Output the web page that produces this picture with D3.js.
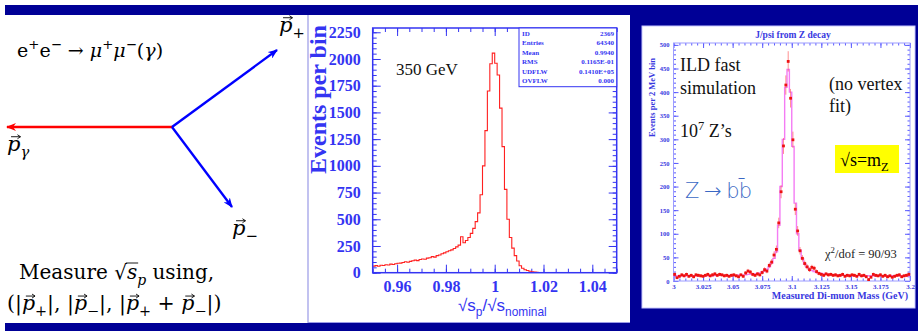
<!DOCTYPE html>
<html>
<head>
<meta charset="utf-8">
<script src="https://cdn.jsdelivr.net/npm/d3@7"></script>
<style>
  body { margin: 0; background: #fff; }
  svg { display: block; }
</style>
</head>
<body>
<div id="chart"></div>
<script>
// ---------- data ----------
// sqrt(s_p)/sqrt(s_nominal) histogram, bins of 0.001 starting at 0.95
const ratioBinStart = 0.95;
const ratioBinWidth = 0.001;
const ratioCounts = [
  62, 66, 60, 70, 68, 74, 72, 80, 77, 84,
  88, 90, 96, 102, 98, 106, 112, 118, 113, 124,
  128, 126, 136, 140, 150, 146, 160, 166, 178, 186,
  196, 205, 214, 226, 242, 258, 336, 280, 302, 330,
  368, 415, 478, 560, 730, 1000, 1330, 1700, 1955, 2055,
  1960, 1850, 1540, 1180, 780, 500, 330, 230, 160, 110,
  65, 42, 28, 20, 14, 9, 5, 3
];
const ratioTicksX = [0.96, 0.98, 1, 1.02, 1.04];
const ratioTicksY = [0, 250, 500, 750, 1000, 1250, 1500, 1750, 2000, 2250];
const statsLabels = ["ID", "Entries", "Mean", "RMS", "UDFLW", "OVFLW"];
const statsValues = ["2369", "64340", "0.9940", "0.1165E-01", "0.1410E+05", "0.000"];

// J/psi di-muon mass, bins of 2 MeV starting at 3.0 GeV
const massBinStart = 3.0;
const massBinWidth = 0.002;
const massCounts = [
  14, 7, 10, 13, 11, 14, 10, 12, 9, 13,
  12, 11, 10, 12, 14, 11, 13, 15, 12, 14,
  13, 11, 12, 10, 12, 13, 11, 9, 13, 10,
  17, 21, 19, 14, 12, 15, 13, 18, 24, 21,
  33, 40, 55, 67, 123, 189, 286, 415, 465, 387,
  299, 152, 106, 64, 48, 37, 30, 24, 29, 27,
  20, 16, 14, 12, 15, 13, 14, 12, 13, 11,
  12, 14, 10, 12, 11, 13, 12, 10, 14, 11,
  12, 9, 3, 8, 14, 12, 11, 13, 10, 12,
  9, 11, 8, 10, 12, 13, 9, 11, 12, 14
];
const massFit = [
  11, 11, 11, 11, 11, 11, 11, 11, 11, 11,
  11, 11, 11, 11, 11, 11, 11, 12, 12, 12,
  12, 12, 12, 12, 12, 12, 12, 13, 13, 13,
  13, 14, 14, 15, 15, 16, 17, 19, 21, 25,
  30, 38, 48, 62, 118, 200, 300, 410, 448, 400,
  285, 165, 100, 65, 47, 36, 29, 25, 22, 20,
  18, 17, 16, 15, 15, 14, 14, 13, 13, 13,
  12, 12, 12, 12, 12, 12, 11, 11, 11, 11,
  11, 11, 11, 11, 11, 11, 11, 11, 11, 11,
  11, 11, 11, 11, 11, 11, 11, 11, 11, 11
];
const massTicksX = [3, 3.025, 3.05, 3.075, 3.1, 3.125, 3.15, 3.175, 3.2];
const massTicksY = [0, 50, 100, 150, 200, 250, 300, 350, 400, 450, 500];

// ---------- setup ----------
const W = 918, H = 331;
const serif = "'Liberation Serif', 'Times New Roman', serif";
const texSerif = "'DejaVu Serif', serif";
const sans = "'Liberation Sans', Arial, sans-serif";
const navy = "#000096";

const svg = d3.select("#chart").append("svg")
  .attr("width", W).attr("height", H)
  .attr("viewBox", `0 0 ${W} ${H}`);

//Slide background bands
svg.append("rect").attr("x", 5).attr("y", 5).attr("width", W - 5).attr("height", 10).attr("fill", navy);
svg.append("rect").attr("x", 5).attr("y", 323).attr("width", W - 5).attr("height", 8).attr("fill", navy);
svg.append("rect").attr("x", 630).attr("y", 5).attr("width", 288).attr("height", 326).attr("fill", navy);
svg.append("rect").attr("x", 642).attr("y", 26).attr("width", 273).attr("height", 282)
  .attr("fill", "#fff").attr("stroke", "#c8c8ff").attr("stroke-width", 1);
svg.append("path").attr("d", "M308,15 V322.5 H630").attr("fill", "none")
  .attr("stroke", "#9a9ae6").attr("stroke-width", 1.2);

// Text with sup/sub parts; parts flagged vec get a small arrow above
function richText(g, x, y, size, parts, font) {
  const t = g.append("text").attr("x", x).attr("y", y)
    .style("font-size", size + "px").style("font-family", font || serif).attr("fill", "#000");
  let shift = 0, idx = 0;
  const vecs = [];
  parts.forEach(p => {
    const target = p.sup ? -0.4 * size : p.sub ? 0.3 * size : 0;
    const ts = t.append("tspan").attr("dy", target - shift).text(p.t);
    shift = target;
    if (p.sup || p.sub) ts.style("font-size", (size * 0.7) + "px");
    if (p.it) ts.style("font-style", "italic");
    if (p.vec) vecs.push({ i: idx, base: y + target, s: (p.sup || p.sub) ? size * 0.7 : size });
    idx += p.t.length;
  });
  vecs.forEach(v => {
    const r = t.node().getExtentOfChar(v.i);
    const ya = v.base - 0.68 * v.s;
    const x0 = r.x + r.width * 0.3, x1 = r.x + r.width * 1.0;
    g.append("path")
      .attr("d", `M${x0},${ya} H${x1} M${x1 - 3},${ya - 2} L${x1},${ya} L${x1 - 3},${ya + 2}`)
      .attr("fill", "none").attr("stroke", "#000").attr("stroke-width", 0.9);
  });
  return t;
}

// ---------- left panel: kinematics sketch ----------
const left = svg.append("g");
const defs = svg.append("defs");
[["arrRed", "#ff0000"], ["arrBlue", "#0000ff"]].forEach(([id, c]) => {
  defs.append("marker").attr("id", id).attr("viewBox", "0 0 10 8")
    .attr("refX", 9).attr("refY", 4).attr("markerWidth", 10).attr("markerHeight", 8)
    .attr("markerUnits", "userSpaceOnUse").attr("orient", "auto")
    .append("path").attr("d", "M0,0 L10,4 L0,8 L3,4 Z").attr("fill", c);
});
const vertex = [172, 127];
const arrows = [
  { to: [7, 127], c: "#ff0000", m: "arrRed" },
  { to: [277, 50], c: "#0000ff", m: "arrBlue" },
  { to: [232, 207], c: "#0000ff", m: "arrBlue" }
];
arrows.forEach(a => {
  left.append("line").attr("x1", vertex[0]).attr("y1", vertex[1])
    .attr("x2", a.to[0]).attr("y2", a.to[1])
    .attr("stroke", a.c).attr("stroke-width", 2.4).attr("marker-end", `url(#${a.m})`);
});

richText(left, 17, 57, 19, [
  { t: "e" }, { t: "+", sup: true }, { t: "e" }, { t: "\u2212", sup: true },
  { t: " \u2192 " }, { t: "\u03bc", it: true }, { t: "+", sup: true },
  { t: "\u03bc", it: true }, { t: "\u2212", sup: true }, { t: "(" }, { t: "\u03b3", it: true }, { t: ")" }
], texSerif);
richText(left, 279, 32, 21, [{ t: "p", it: true, vec: true }, { t: "+", sub: true }], texSerif);
richText(left, 7, 151, 21, [{ t: "p", it: true, vec: true }, { t: "\u03b3", it: true, sub: true }], texSerif);
richText(left, 232, 235, 21, [{ t: "p", it: true, vec: true }, { t: "\u2212", sub: true }], texSerif);
const meas = richText(left, 19, 279, 20, [
  { t: "Measure " }, { t: "\u221a" }, { t: "s", it: true }, { t: "p", it: true, sub: true }, { t: " using," }
], texSerif);
// overline of the square root
{
  const n = meas.node();
  const a = n.getExtentOfChar(8), b = n.getExtentOfChar(9);
  left.append("line").attr("x1", a.x + a.width - 1).attr("x2", b.x + b.width + 1)
    .attr("y1", a.y + 3).attr("y2", a.y + 3).attr("stroke", "#000").attr("stroke-width", 0.9);
}
richText(left, 7, 310, 20.5, [
  { t: "(|" }, { t: "p", it: true, vec: true }, { t: "+", sub: true }, { t: "|, |" },
  { t: "p", it: true, vec: true }, { t: "\u2212", sub: true }, { t: "|, |" },
  { t: "p", it: true, vec: true }, { t: "+", sub: true }, { t: " + " },
  { t: "p", it: true, vec: true }, { t: "\u2212", sub: true }, { t: "|)" }
], texSerif);

// ---------- middle panel: sqrt(s_p) histogram ----------
const midBlue = "#3434f2";
const mid = svg.append("g");
const xM = d3.scaleLinear().domain([0.95, 1.05]).range([372.7, 616.7]);
const yM = d3.scaleLinear().domain([0, 2290]).range([272.7, 28]);

function frameTicks(g, x, y, majX, minX, majY, minY, lenMaj, lenMin, color) {
  const [x0, x1] = x.range(), [y0, y1] = y.range();
  const mk = (axis, tr, vals, len) => g.append("g").attr("transform", tr).attr("color", color)
    .call(axis.tickValues(vals).tickSize(len).tickFormat(""))
    .call(s => s.select(".domain").remove());
  mk(d3.axisBottom(x), `translate(0,${y0})`, minX, -lenMin);
  mk(d3.axisBottom(x), `translate(0,${y0})`, majX, -lenMaj);
  mk(d3.axisTop(x), `translate(0,${y1})`, minX, -lenMin);
  mk(d3.axisTop(x), `translate(0,${y1})`, majX, -lenMaj);
  mk(d3.axisLeft(y), `translate(${x0},0)`, minY, -lenMin);
  mk(d3.axisLeft(y), `translate(${x0},0)`, majY, -lenMaj);
  mk(d3.axisRight(y), `translate(${x1},0)`, minY, -lenMin);
  mk(d3.axisRight(y), `translate(${x1},0)`, majY, -lenMaj);
}

const labelStyle = (sel, size) => sel.selectAll("text")
  .style("font-family", serif).style("font-weight", "bold").style("font-size", size + "px");

frameTicks(mid, xM, yM, ratioTicksX, d3.range(0.95, 1.0501, 0.005), ratioTicksY,
  d3.range(0, 2290, 50), 8, 4, midBlue);

// tick labels
mid.append("g").attr("transform", "translate(0,272.7)").attr("color", midBlue)
  .call(d3.axisBottom(xM).tickValues(ratioTicksX).tickSize(0).tickPadding(8).tickFormat(d3.format("~g")))
  .call(s => s.select(".domain").remove())
  .call(s => labelStyle(s, 16));
mid.append("g").attr("transform", "translate(372.7,0)").attr("color", midBlue)
  .call(d3.axisLeft(yM).tickValues(ratioTicksY).tickSize(0).tickPadding(12).tickFormat(d3.format("d")))
  .call(s => s.select(".domain").remove())
  .call(s => labelStyle(s, 16));

// histogram
const ratioSteps = ratioCounts.map((c, i) => [ratioBinStart + i * ratioBinWidth, c]);
ratioSteps.push([ratioBinStart + ratioCounts.length * ratioBinWidth, ratioCounts[ratioCounts.length - 1]]);
mid.append("path").datum(ratioSteps)
  .attr("fill", "none").attr("stroke", "#ff2020").attr("stroke-width", 1.1)
  .attr("d", d3.line().x(d => xM(d[0])).y(d => yM(d[1])).curve(d3.curveStepAfter));

mid.append("rect").attr("x", 372.7).attr("y", 28).attr("width", 244).attr("height", 244.7)
  .attr("fill", "none").attr("stroke", midBlue).attr("stroke-width", 1.5);

// stats box
const sb = mid.append("g");
sb.append("rect").attr("x", 519).attr("y", 28).attr("width", 97.7).attr("height", 58.7)
  .attr("fill", "#fff").attr("stroke", midBlue).attr("stroke-width", 1);
statsLabels.forEach((l, i) => {
  const yy = 35.5 + i * 9.5;
  sb.append("text").attr("x", 522).attr("y", yy).text(l)
    .style("font-family", serif).style("font-weight", "bold").style("font-size", "7px").attr("fill", midBlue);
  sb.append("text").attr("x", 614).attr("y", yy).attr("text-anchor", "end").text(statsValues[i])
    .style("font-family", serif).style("font-weight", "bold").style("font-size", "7px").attr("fill", midBlue);
});

mid.append("text").attr("x", 396).attr("y", 75).text("350 GeV")
  .style("font-family", serif).style("font-size", "17px").attr("fill", "#111");

mid.append("text").attr("transform", "translate(326,174) rotate(-90)")
  .text("Events per bin").style("font-family", serif).style("font-weight", "bold")
  .style("font-size", "24px").attr("fill", midBlue);

richText(mid, 458, 311, 17, [
  { t: "\u221as" }, { t: "p", sub: true }, { t: "/\u221as" }, { t: "nominal", sub: true }
], sans).attr("fill", midBlue);

// ---------- right panel: J/psi mass ----------
const rBlue = "#3838e0";
const rgt = svg.append("g");
const xR = d3.scaleLinear().domain([3, 3.2]).range([673.5, 910]);
const yR = d3.scaleLinear().domain([0, 504]).range([281, 43]);

frameTicks(rgt, xR, yR, massTicksX, d3.range(3, 3.2001, 0.005), massTicksY,
  d3.range(0, 504, 10), 5, 2.5, "#5a5aff");
rgt.append("rect").attr("x", 673.5).attr("y", 43).attr("width", 236.5).attr("height", 238)
  .attr("fill", "none").attr("stroke", "#9c9cff").attr("stroke-width", 1);

rgt.append("g").attr("transform", "translate(0,281)").attr("color", rBlue)
  .call(d3.axisBottom(xR).tickValues(massTicksX).tickSize(0).tickPadding(3).tickFormat(d3.format("~g")))
  .call(s => s.select(".domain").remove())
  .call(s => labelStyle(s, 7));
rgt.append("g").attr("transform", "translate(673.5,0)").attr("color", rBlue)
  .call(d3.axisLeft(yR).tickValues(massTicksY).tickSize(0).tickPadding(4))
  .call(s => s.select(".domain").remove())
  .call(s => labelStyle(s, 6.5));

// fit histogram
const fitSteps = massFit.map((c, i) => [massBinStart + i * massBinWidth, c]);
fitSteps.push([massBinStart + massFit.length * massBinWidth, massFit[massFit.length - 1]]);
rgt.append("path").datum(fitSteps)
  .attr("fill", "none").attr("stroke", "#f47cf4").attr("stroke-width", 1.4)
  .attr("d", d3.line().x(d => xR(d[0])).y(d => yR(d[1])).curve(d3.curveStepAfter));

// data points with Poisson error bars
const pts = rgt.append("g");
massCounts.forEach((c, i) => {
  const cx = xR(massBinStart + (i + 0.5) * massBinWidth);
  const e = Math.sqrt(c);
  pts.append("line").attr("x1", cx).attr("x2", cx)
    .attr("y1", yR(c - e)).attr("y2", yR(c + e))
    .attr("stroke", "#ff5050").attr("stroke-width", 0.8).attr("opacity", 0.8);
  pts.append("rect").attr("x", cx - 1.4).attr("y", yR(c) - 1.4)
    .attr("width", 2.8).attr("height", 2.8).attr("fill", "#ee1111");
});

const boldBlue = (x, y, s, size, anchor, tr) => {
  const t = rgt.append("text").text(s).attr("fill", rBlue).attr("text-anchor", anchor)
    .style("font-family", serif).style("font-weight", "bold").style("font-size", size + "px");
  if (tr) t.attr("transform", tr); else t.attr("x", x).attr("y", y);
  return t;
};
boldBlue(793, 38, "J/psi from Z decay", 9.5, "middle");
boldBlue(908, 299, "Measured Di-muon Mass (GeV)", 10, "end");
boldBlue(0, 0, "Events per 2 MeV bin", 8.5, "start", "translate(655,137) rotate(-90)");

const txt = (x, y, s, size) => rgt.append("text").attr("x", x).attr("y", y).text(s)
  .style("font-family", serif).style("font-size", size + "px").attr("fill", "#111");
txt(680, 71, "ILD fast", 18);
txt(680, 94, "simulation", 18);
txt(829, 90, "(no vertex", 18);
txt(829, 112, "fit)", 18);
richText(rgt, 680, 137, 18, [{ t: "10" }, { t: "7", sup: true }, { t: " Z\u2019s" }]).attr("fill", "#111");

rgt.append("rect").attr("x", 835).attr("y", 145).attr("width", 64).attr("height", 28).attr("fill", "#ffff00");
richText(rgt, 840, 166, 18, [{ t: "\u221as=m" }, { t: "Z", sub: true }]);

rgt.append("text").attr("x", 685).attr("y", 198).text("Z \u2192 bb\u0304")
  .style("font-family", "'DejaVu Sans', sans-serif").style("font-weight", 200)
  .style("font-size", "21px").style("letter-spacing", "-1px").attr("fill", "#3a68c4");

richText(rgt, 825, 258, 12.5, [{ t: "\u03c7" }, { t: "2", sup: true }, { t: "/dof = 90/93" }]).attr("fill", "#222");
</script>
</body>
</html>
